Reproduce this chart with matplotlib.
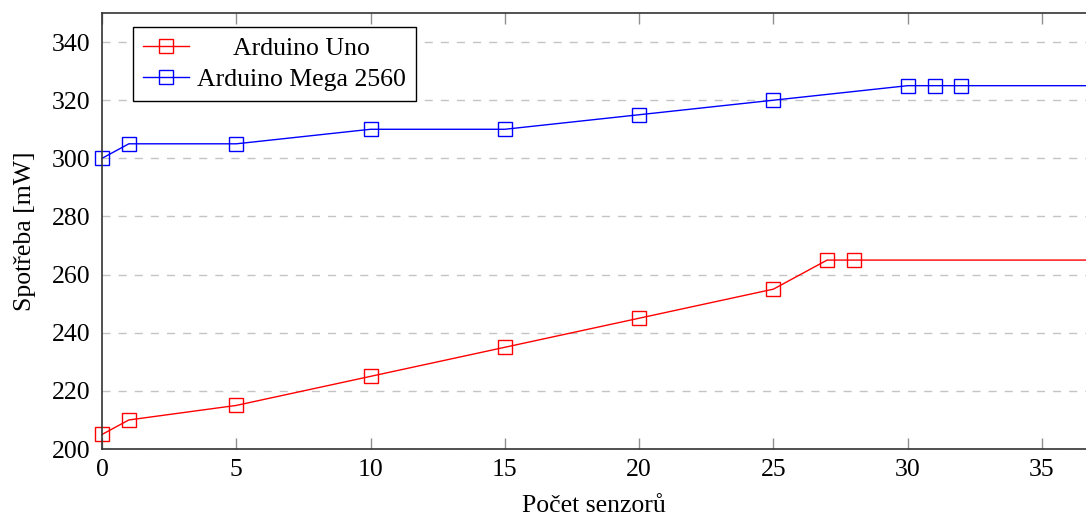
import matplotlib.pyplot as plt

plt.rcParams['font.family'] = ['Liberation Serif', 'DejaVu Serif']

# data (last point lies beyond the visible x range)
uno_x = [0, 1, 5, 10, 15, 20, 25, 27, 28, 40]
uno_y = [205, 210, 215, 225, 235, 245, 255, 265, 265, 265]
mega_x = [0, 1, 5, 10, 15, 20, 25, 30, 31, 32, 40]
mega_y = [300, 305, 305, 310, 310, 315, 320, 325, 325, 325, 325]
xticks = [0, 5, 10, 15, 20, 25, 30, 35]
yticks = [200, 220, 240, 260, 280, 300, 320, 340]

FS = 18.5
fig = plt.figure(figsize=(10.86, 5.16), dpi=100)
ax = fig.add_axes([0.0939, 0.1298, 0.9061, 0.8450])

mk = dict(marker='s', markersize=9.5, markerfacecolor='none', markeredgewidth=1.0,
          linewidth=1.0, clip_on=False)
ax.plot(uno_x, uno_y, color='#ff0000', label='Arduino Uno', **mk)
ax.plot(mega_x, mega_y, color='#0000ff', label='Arduino Mega 2560', **mk)

ax.set_xlim(0, 36.64)
ax.set_ylim(200, 350)
ax.set_xticks(xticks)
ax.set_yticks(yticks)

ax.yaxis.grid(True, color='#c4c4c4', linewidth=1.0, dashes=(5.8, 5.8))
ax.set_axisbelow(True)

ax.tick_params(axis='x', direction='in', length=8, width=1, color='#909090',
               top=True, labelsize=FS, pad=7)
ax.tick_params(axis='y', length=0, labelsize=FS, pad=8)

for s in ['left', 'bottom', 'top']:
    ax.spines[s].set_color('#333333')
    ax.spines[s].set_linewidth(1.2)
ax.spines['right'].set_visible(False)

ax.set_xlabel('Počet senzorů', fontsize=FS, labelpad=10)
ax.set_ylabel('Spotřeba [mW]', fontsize=FS, labelpad=12)

leg = ax.legend(loc='upper left', bbox_to_anchor=(0.0315, 0.968), borderaxespad=0,
                fontsize=FS, frameon=True, fancybox=False, edgecolor='black',
                framealpha=1, handlelength=1.8, handletextpad=0.3,
                borderpad=0.4, labelspacing=0.3)
leg.get_frame().set_linewidth(1.0)

# centre the shorter legend entry like pgfplots does
fig.canvas.draw()
r = fig.canvas.get_renderer()
t1, t2 = leg.get_texts()
w1 = t1.get_window_extent(r).width
w2 = t2.get_window_extent(r).width
t1.set_x((w2 - w1) / 2)

fig.savefig('out.png', dpi=100)
